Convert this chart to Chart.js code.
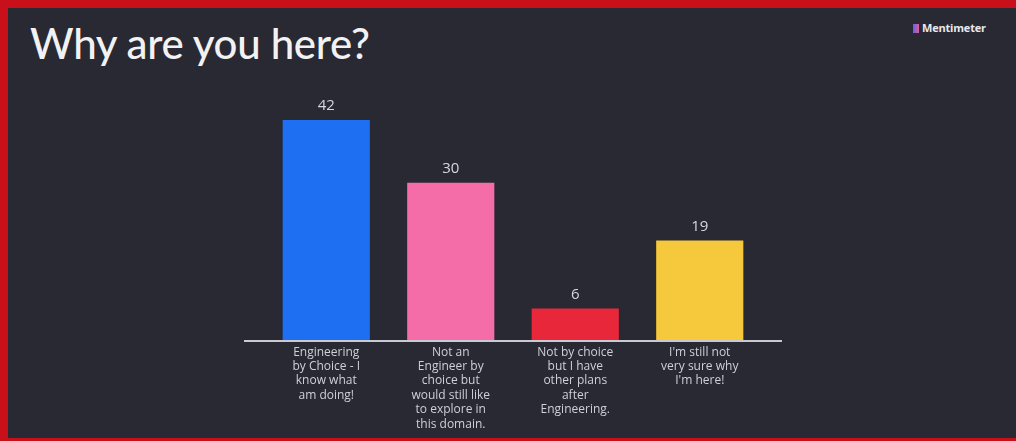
<!DOCTYPE html>
<html>
<head>
<meta charset="utf-8">
<script src="https://cdn.jsdelivr.net/npm/chart.js@4"></script>
<style>
  html, body { margin: 0; padding: 0; width: 1016px; height: 441px; overflow: hidden; background: #c8101a; }
  #panel { position: absolute; left: 8px; top: 8px; right: 0; bottom: 3px; background: #282932; }
  #title { position: absolute; left: 30px; top: 18px; margin: 0; color: #f2f2f4; font: 500 42px Lato, "Open Sans", sans-serif; letter-spacing: -0.3px; }
  #logo { position: absolute; left: 913px; top: 20px; color: #e8e8ee; font: bold 11px "Open Sans", sans-serif; letter-spacing: -0.2px; }
  #logo span { display: inline-block; width: 6px; height: 9px; background: linear-gradient(90deg, #5a62ff, #e65a8c); margin-right: 3px; vertical-align: -1px; }
  #wrap { position: absolute; left: 0; top: 0; width: 1016px; height: 441px; }
</style>
</head>
<body>
<div id="panel"></div>
<h1 id="title">Why are you here?</h1>
<div id="logo"><span></span>Mentimeter</div>
<div id="wrap"><canvas id="votes"></canvas></div>
<script>
const categories = [
  ['Engineering', 'by Choice - I', 'know what', 'am doing!'],
  ['Not an', 'Engineer by', 'choice but', 'would still like', 'to explore in', 'this domain.'],
  ['Not by choice', 'but I have', 'other plans', 'after', 'Engineering.'],
  ["I'm still not", 'very sure why', "I'm here!"]
];
const votes = [42, 30, 6, 19];
const barColors = ['#1f6ff2', '#f46ca8', '#e8283a', '#f6c83c'];

// numbers over the bars + the long baseline
const extras = {
  id: 'extras',
  afterDatasetsDraw(chart) {
    const c = chart.ctx;
    const area = chart.chartArea;
    c.save();
    c.strokeStyle = '#c9c9d2';
    c.lineWidth = 2;
    c.beginPath();
    c.moveTo(area.left - 20, area.bottom + 1);
    c.lineTo(area.right + 20, area.bottom + 1);
    c.stroke();

    c.fillStyle = '#d6d6de';
    c.font = '15px "Open Sans", sans-serif';
    c.textAlign = 'center';
    c.textBaseline = 'middle';
    chart.getDatasetMeta(0).data.forEach((bar, i) => {
      c.fillText(votes[i], bar.x, bar.y - 14);
    });
    c.restore();
  }
};

const ctx = document.getElementById('votes').getContext('2d');

const chart = new Chart(ctx, {
  type: 'bar',
  data: {
    labels: categories,
    datasets: [{
      data: votes,
      backgroundColor: barColors,
      borderWidth: 0,
      categoryPercentage: 1,
      barPercentage: 0.7
    }]
  },
  options: {
    responsive: true,
    maintainAspectRatio: false,
    animation: false,
    events: [],
    layout: { padding: { left: 264, right: 254, top: 78, bottom: 0 } },
    plugins: {
      legend: { display: false },
      tooltip: { enabled: false }
    },
    scales: {
      x: {
        grid: { display: false },
        border: { display: false },
        afterFit(scale) { scale.height = 101; },
        ticks: {
          color: '#cfcfd8',
          padding: -3,
          maxRotation: 0,
          autoSkip: false,
          font: { size: 12, family: '"Open Sans", sans-serif', lineHeight: 1.2 }
        }
      },
      y: {
        display: false,
        min: 0,
        max: 50
      }
    }
  },
  plugins: [extras]
});
</script>
</body>
</html>
